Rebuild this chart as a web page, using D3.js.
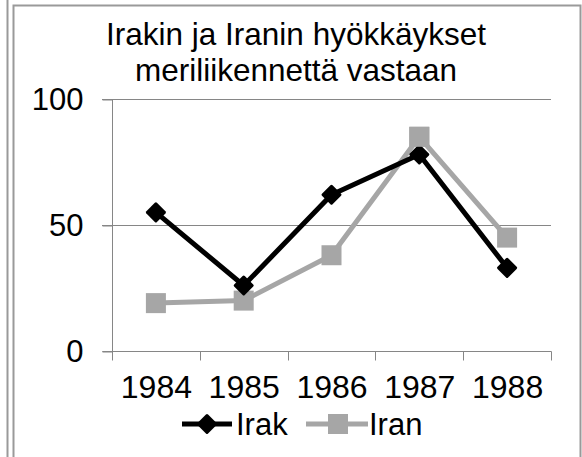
<!DOCTYPE html>
<html>
<head>
<meta charset="utf-8">
<script src="https://cdn.jsdelivr.net/npm/d3@7"></script>
<style>
html,body{margin:0;padding:0;background:#fff;}
svg{display:block;}
text{font-family:"Liberation Sans",Arial,sans-serif;fill:#000;}
</style>
</head>
<body>
<svg id="chart" width="582" height="457"></svg>
<script>
const titleLines = ["Irakin ja Iranin hyökkäykset", "meriliikennettä vastaan"];
const years = ["1984", "1985", "1986", "1987", "1988"];
const irak = [55, 26, 62, 78, 33];
const iran = [19, 20, 38, 85, 45];
const yTicks = [0, 50, 100];
const seriesNames = ["Irak", "Iran"];
const seriesColors = ["#000000", "#a6a6a6"];

const svg = d3.select("#chart");
const W = 582, H = 457;
svg.append("rect").attr("width", W).attr("height", H).attr("fill", "#fff");

// frame lines
const frame = svg.append("g").attr("fill", "none");
frame.append("line").attr("x1", 7.5).attr("x2", 7.5).attr("y1", 0).attr("y2", H).attr("stroke", "#9a9a9a").attr("stroke-width", 2);
frame.append("path").attr("d", `M13.5,${H} V5.5 H580.5 V${H}`).attr("stroke", "#9a9a9a").attr("stroke-width", 2);

const x = d3.scaleBand().domain(years).range([112, 551]).paddingInner(0).paddingOuter(0);
const y = d3.scaleLinear().domain([0, 100]).range([351, 99]);

// title
svg.append("text").attr("x", 296).attr("y", 45).attr("text-anchor", "middle").attr("font-size", 31.5).text(titleLines[0]);
svg.append("text").attr("x", 296).attr("y", 81).attr("text-anchor", "middle").attr("font-size", 31.5).text(titleLines[1]);

// gridlines
const grid = svg.append("g");
grid.selectAll("line").data(yTicks.filter(d => d > 0)).join("line")
  .attr("x1", 102).attr("x2", 551)
  .attr("y1", d => Math.round(y(d)) + 0.5).attr("y2", d => Math.round(y(d)) + 0.5)
  .attr("stroke", "#868686").attr("stroke-width", 1);

// y axis
const yAxis = d3.axisLeft(y).tickValues(yTicks).tickSize(10).tickPadding(19);
const gy = svg.append("g").attr("transform", "translate(112.5,0.5)").call(yAxis);
gy.select(".domain").attr("stroke", "#868686").attr("d", `M-10,${y(100)}H0V${y(0)}H-10`);
gy.selectAll(".tick line").attr("stroke", "#868686");
gy.selectAll(".tick text").attr("font-size", 31).attr("font-family", "Liberation Sans, Arial, sans-serif").attr("fill", "#000");

// x axis with boundary ticks
const gx = svg.append("g").attr("transform", `translate(0.5,${Math.round(y(0)) + 0.5})`);
gx.append("line").attr("x1", 102).attr("x2", 551).attr("stroke", "#868686");
const bounds = years.map(d => x(d)).concat([x(years[years.length - 1]) + x.bandwidth()]);
gx.selectAll("line.t").data(bounds).join("line").attr("class", "t")
  .attr("x1", d => Math.round(d)).attr("x2", d => Math.round(d)).attr("y1", 0).attr("y2", 9).attr("stroke", "#868686");
gx.selectAll("text").data(years).join("text")
  .attr("x", d => x(d) + x.bandwidth() / 2).attr("y", 46)
  .attr("text-anchor", "middle").attr("font-size", 32).text(d => d);

const line = d3.line().x((d, i) => x(years[i]) + x.bandwidth() / 2).y(d => y(d));

function diamond(g, cx, cy, color) {
  g.append("rect").attr("x", -7.5).attr("y", -7.5).attr("width", 15).attr("height", 15).attr("rx", 1.5)
    .attr("fill", color).attr("transform", `translate(${cx},${cy}) rotate(45)`);
}
function square(g, cx, cy, color) {
  g.append("rect").attr("x", cx - 10).attr("y", cy - 10).attr("width", 20).attr("height", 20).attr("fill", color);
}

// Iran first (behind), then Irak
const gIran = svg.append("g");
gIran.append("path").datum(iran).attr("d", line).attr("fill", "none").attr("stroke", seriesColors[1]).attr("stroke-width", 5).attr("stroke-linejoin", "round");
iran.forEach((v, i) => square(gIran, x(years[i]) + x.bandwidth() / 2, y(v), seriesColors[1]));

const gIrak = svg.append("g");
gIrak.append("path").datum(irak).attr("d", line).attr("fill", "none").attr("stroke", seriesColors[0]).attr("stroke-width", 5).attr("stroke-linejoin", "round");
irak.forEach((v, i) => diamond(gIrak, x(years[i]) + x.bandwidth() / 2, y(v), seriesColors[0]));

// Iran 1987 square sits on top in the reference
square(svg.append("g"), x(years[3]) + x.bandwidth() / 2, y(iran[3]), seriesColors[1]);

// legend
const leg = svg.append("g");
const ly = 424;
leg.append("line").attr("x1", 182).attr("x2", 232).attr("y1", ly).attr("y2", ly).attr("stroke", seriesColors[0]).attr("stroke-width", 5);
diamond(leg, 207, ly, seriesColors[0]);
leg.append("text").attr("x", 236).attr("y", ly + 11).attr("font-size", 31).text(seriesNames[0]);
leg.append("line").attr("x1", 306).attr("x2", 368).attr("y1", ly).attr("y2", ly).attr("stroke", seriesColors[1]).attr("stroke-width", 5);
square(leg, 338, ly, seriesColors[1]);
leg.append("text").attr("x", 369).attr("y", ly + 11).attr("font-size", 31).text(seriesNames[1]);
</script>
</body>
</html>
